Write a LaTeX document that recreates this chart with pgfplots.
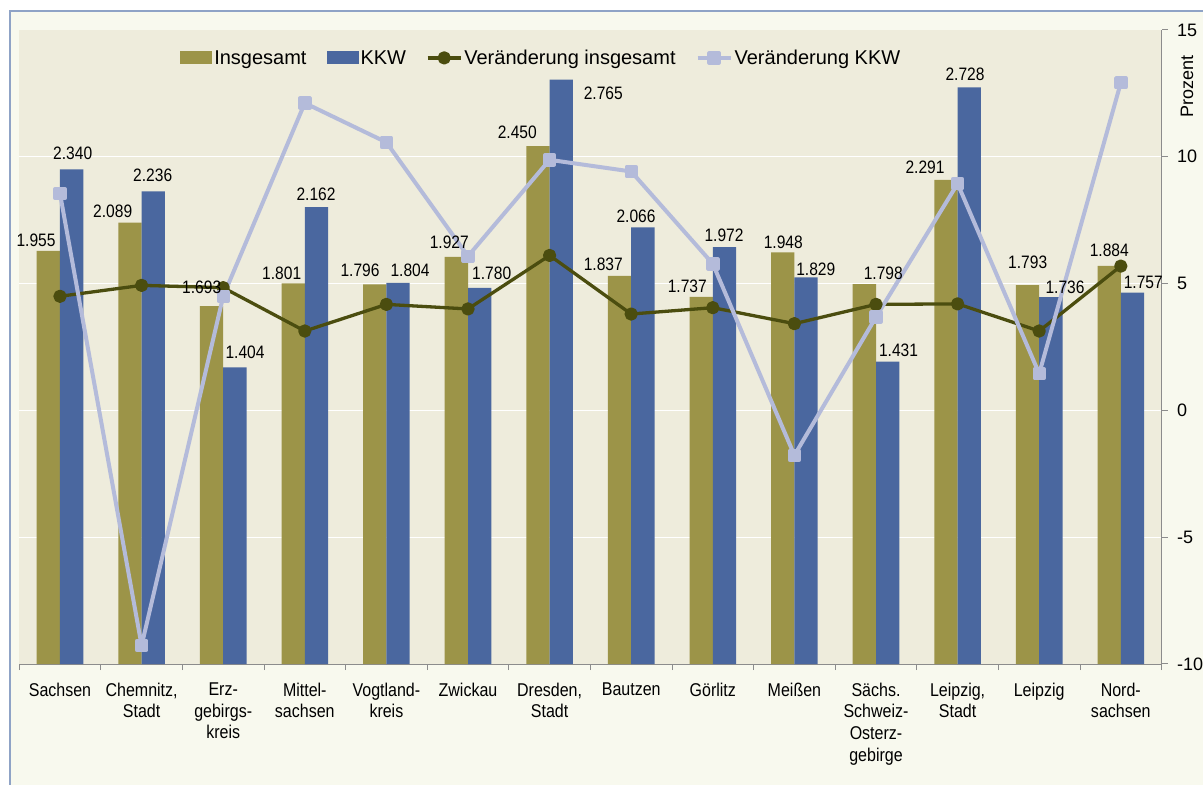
\documentclass[border=0pt]{standalone}
\usepackage{pgfplots}
\usepackage{pgfplotstable}
\pgfplotsset{compat=1.18}
\usepackage{fontspec}
\setmainfont{Liberation Sans}
\newfontfamily\narrow[FakeStretch=0.865]{Liberation Sans}
\definecolor{olivebar}{HTML}{9C9448}
\definecolor{kkwblue}{HTML}{4A679F}
\definecolor{darkline}{HTML}{4B4D0F}
\definecolor{lavender}{HTML}{B4BBDA}
\definecolor{plotbg}{HTML}{EEECDC}
\definecolor{outerbg}{HTML}{F8F9EE}
\definecolor{framecol}{HTML}{8FA3C6}
\definecolor{axisgray}{HTML}{8C8C8C}
\pgfplotstableread{
idx ins kkw vins vkkw
0 1.955 2.340 4.50 8.55
1 2.089 2.236 4.93 -9.27
2 1.693 1.404 4.84 4.50
3 1.801 2.162 3.13 12.12
4 1.796 1.804 4.18 10.57
5 1.927 1.780 4.00 6.08
6 2.450 2.765 6.11 9.88
7 1.837 2.066 3.80 9.42
8 1.737 1.972 4.05 5.78
9 1.948 1.829 3.42 -1.77
10 1.798 1.431 4.18 3.68
11 2.291 2.728 4.20 8.94
12 1.793 1.736 3.13 1.45
13 1.884 1.757 5.69 12.92
}\data
\pgfplotsset{
  barlegend/.style={legend image code/.code={\fill[##1, draw=none] (0pt,-6.5pt) rectangle (32pt,6.5pt);}},
  linelegend/.style={legend image code/.code={\draw[mark repeat=2,mark phase=2,##1] plot coordinates {(0pt,0pt) (16.5pt,0pt) (33pt,0pt)};}},
}
\begin{document}
\begin{tikzpicture}[x=1pt,y=1pt]
\useasboundingbox (0,0) rectangle (1203,785);
\clip (0,0) rectangle (1203,785);
\fill[white] (0,0) rectangle (1203,785);
\filldraw[fill=outerbg, draw=framecol, line width=2pt] (10,-20) rectangle (1240,774);
\begin{axis}[
  at={(19.2pt,121pt)}, anchor=south west,
  scale only axis, width=1142.4pt, height=634pt,
  xmin=-0.5, xmax=13.5, ymin=0, ymax=3,
  axis background/.style={fill=plotbg},
  axis x line*=bottom, axis y line*=left,
  y axis line style={draw=none},
  x axis line style={draw=axisgray, line width=1pt},
  ytick={0.6,1.2,1.8,2.4}, yticklabels={}, ytick style={draw=none},
  ymajorgrids, grid style={white, line width=1.3pt},
  xtick={0,...,13},
  xticklabels={Sachsen,{Chemnitz,\\Stadt},{Erz-\\gebirgs-\\kreis},{Mittel-\\sachsen},{Vogtland-\\kreis},Zwickau,{Dresden,\\Stadt},Bautzen,Görlitz,Meißen,{Sächs.\\Schweiz-\\Osterz-\\gebirge},{Leipzig,\\Stadt},Leipzig,{Nord-\\sachsen}},
  major x tick style={draw=none},
  minor xtick={-0.5,0.5,...,13.5},
  minor x tick style={draw=axisgray, line width=1pt},
  xtick align=outside, minor tick length=6pt,
  xticklabel style={font=\narrow\fontsize{18.5}{21.7}\selectfont, align=center, text=black, anchor=north, yshift=-11pt},
  ybar=0pt, bar width=23.3pt,
]
\addplot[fill=olivebar, draw=none] table[x=idx,y=ins]{\data};
\addplot[fill=kkwblue, draw=none] table[x=idx,y=kkw]{\data};
\end{axis}
\begin{axis}[
  at={(19.2pt,121pt)}, anchor=south west,
  scale only axis, width=1142.4pt, height=634pt,
  xmin=-0.5, xmax=13.5, ymin=-10, ymax=15,
  axis x line=none, axis y line*=right,
  y axis line style={draw=axisgray, line width=1pt},
  ytick={-10,-5,...,15}, ytick align=outside, major tick length=6pt,
  ytick style={draw=axisgray, line width=1pt},
  yticklabel style={font=\fontsize{18}{21}\selectfont, text=black, anchor=west, xshift=6pt},
  /pgf/number format/assume math mode=true,
  legend columns=4,
  legend style={at={(0.457,0.956)}, anchor=center, draw=none, fill=none,
    font=\fontsize{20}{24}\selectfont, inner sep=0pt,
    /tikz/every even column/.append style={column sep=18pt}},
  legend cell align=left,
]
\addlegendimage{barlegend, fill=olivebar}
\addlegendentry{Insgesamt}
\addlegendimage{barlegend, fill=kkwblue}
\addlegendentry{KKW}
\addplot[linelegend, darkline, line width=3.3pt, line join=round, mark=*, mark size=5pt, mark options={solid}] table[x=idx,y=vins]{\data};
\addlegendentry{Veränderung insgesamt}
\addplot[linelegend, lavender, line width=4pt, line join=round, mark=square*, mark size=4.7pt, mark options={solid}] table[x=idx,y=vkkw]{\data};
\addlegendentry{Veränderung KKW}
\end{axis}
\node[rotate=90, anchor=east, font=\fontsize{18}{21}\selectfont] at (1187,733) {Prozent};
\begin{scope}[every node/.style={font=\narrow\fontsize{18}{22}\selectfont, inner sep=0pt, anchor=center}]
\node at (36,545) {1.955};
\node at (72.7,631.7) {2.340};
\node at (112.7,573.3) {2.089};
\node at (152.7,610) {2.236};
\node at (201.7,497.7) {1.693};
\node at (245,433) {1.404};
\node at (281.7,511.7) {1.801};
\node at (316,591) {2.162};
\node at (360,514.3) {1.796};
\node at (410,515) {1.804};
\node at (449.3,542.3) {1.927};
\node at (491.7,511.7) {1.780};
\node at (517.3,652.3) {2.450};
\node at (603.3,691.7) {2.765};
\node at (603.3,521) {1.837};
\node at (636,569) {2.066};
\node at (687.3,498.3) {1.737};
\node at (724,550) {1.972};
\node at (783.3,542.3) {1.948};
\node at (815.8,515.7) {1.829};
\node at (883.3,511.7) {1.798};
\node at (898.5,435) {1.431};
\node at (925,617.7) {2.291};
\node at (965,711) {2.728};
\node at (1027.7,522.3) {1.793};
\node at (1065,497.7) {1.736};
\node at (1109.3,535) {1.884};
\node at (1143.3,502.3) {1.757};
\end{scope}
\end{tikzpicture}
\end{document}
